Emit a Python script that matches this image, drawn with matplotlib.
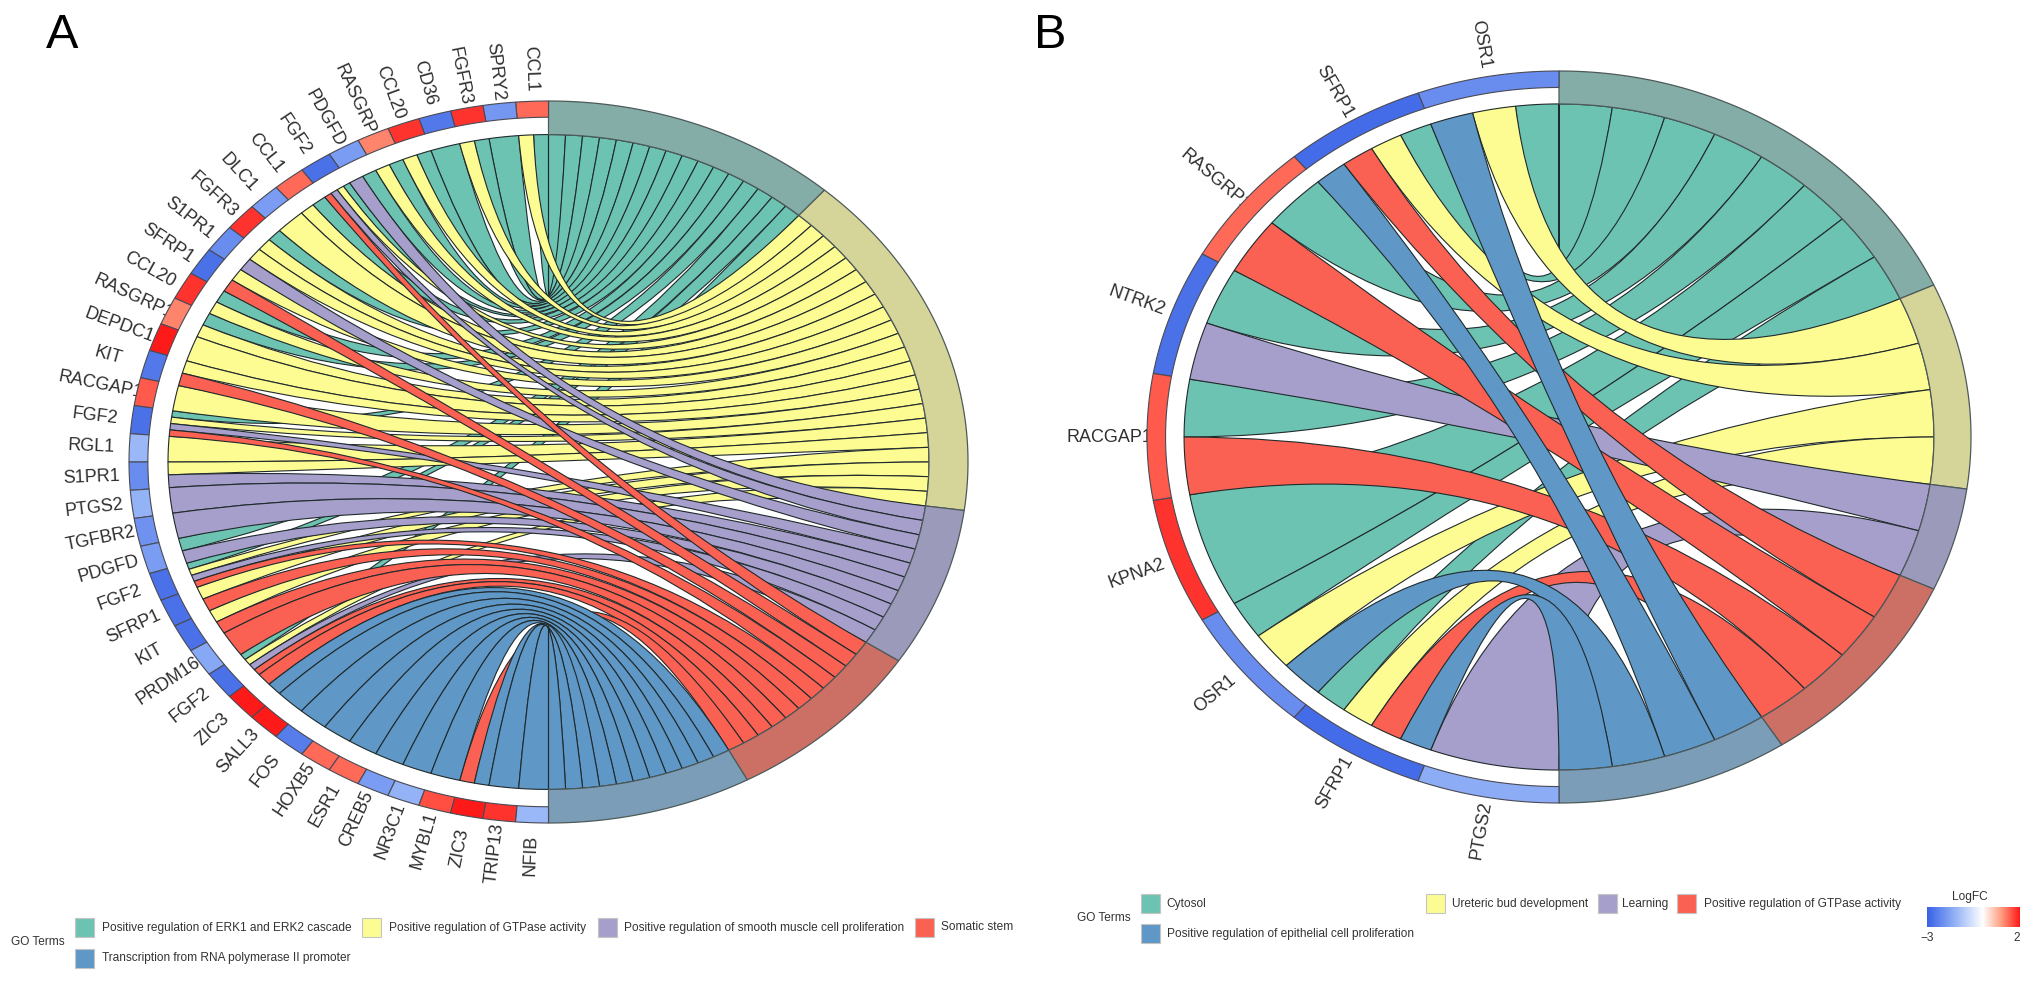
import numpy as np
import matplotlib
matplotlib.use('Agg')
import matplotlib.pyplot as plt
from matplotlib.colors import LinearSegmentedColormap
from matplotlib.patches import PathPatch, Polygon, Rectangle
from matplotlib.path import Path

plt.rcParams['font.family'] = ['Liberation Sans', 'DejaVu Sans']

W, H = 2032, 983

# T=0, Y=1, P=2, R=3, B=4 are positions in the term colour lists
genes_a = ['CCL1', 'SPRY2', 'FGFR3', 'CD36', 'CCL20', 'RASGRP1', 'PDGFD', 'FGF2', 'CCL1', 'DLC1',
           'FGFR3', 'S1PR1', 'SFRP1', 'CCL20', 'RASGRP1', 'DEPDC1', 'KIT', 'RACGAP1', 'FGF2', 'RGL1',
           'S1PR1', 'PTGS2', 'TGFBR2', 'PDGFD', 'FGF2', 'SFRP1', 'KIT', 'PRDM16', 'FGF2', 'ZIC3',
           'SALL3', 'FOS', 'HOXB5', 'ESR1', 'CREB5', 'NR3C1', 'MYBL1', 'ZIC3', 'TRIP13', 'NFIB']
logfc_a = [1.4, -2.0, 1.8, -2.6, 1.8, 1.2, -1.9, -2.7, 1.4, -1.9,
           1.8, -2.2, -2.7, 1.8, 1.2, 2.0, -2.6, 1.5, -2.7, -1.4,
           -2.2, -1.5, -2.1, -1.9, -2.7, -2.7, -2.7, -1.7, -2.7, 2.0,
           2.0, -2.5, 1.4, 1.4, -1.9, -1.5, 1.6, 2.0, 1.8, -1.4]
links_a = [[0, 1], [0], [0, 1], [0], [0, 1], [0, 1], [0, 2], [0, 1, 2, 3], [0, 1], [1],
           [0, 1], [1, 2], [1, 3], [0, 1], [0, 1], [1], [1, 3], [1], [0, 1, 2, 3], [1],
           [1, 2], [2], [2], [0, 2], [0, 1, 2, 3], [1, 3], [1, 3], [3], [0, 1, 2, 3], [3, 4],
           [4], [4], [4], [4], [4], [4], [4], [3, 4], [4], [4]]

genes_b = ['OSR1', 'SFRP1', 'RASGRP1', 'NTRK2', 'RACGAP1', 'KPNA2', 'OSR1', 'SFRP1', 'PTGS2']
logfc_b = [-2.2, -2.8, 1.4, -2.7, 1.5, 1.8, -2.2, -2.8, -1.6]
links_b = [[0, 1, 4], [0, 1, 3, 4], [0, 3], [0, 2], [0, 3], [0], [0, 1, 4], [0, 1, 3, 4], [2]]

ribbon_colors = ['#6DC3B1', '#FDFC92', '#A69FCC', '#FB6152', '#5F97C6']
arc_colors = ['#84ADA7', '#D6D599', '#9C9ABB', '#CC7066', '#7C9DB7']

cmap = LinearSegmentedColormap.from_list('logfc', ['#3A62E6', '#93B3F6', '#FFFFFF', '#FF9E81', '#FF1A1A'])


def fc_color(v):
    # white sits at 0 on a -3..2 scale, as in the colour bar
    return cmap(0.5 + 0.5 * v / 3.0) if v < 0 else cmap(0.5 + 0.5 * v / 2.0)


def pt(ang, r):
    a = np.radians(ang)
    return np.column_stack([r * np.sin(a), r * np.cos(a)])


def arc(a1, a2, r):
    n = max(int(abs(a2 - a1)) + 3, 3)
    return pt(np.linspace(a1, a2, n), r)


def band(ax, a1, a2, r1, r2, fc, ec, lw, z=3):
    xy = np.vstack([arc(a1, a2, r2), arc(a2, a1, r1)])
    ax.add_patch(Polygon(xy, closed=True, fc=fc, ec=ec, lw=lw, zorder=z))


def ribbon(ax, g1, g2, t1, t2, r, fc):
    # quadratic bezier through the centre on both long edges
    top = arc(t1, t2, r)
    back = arc(g2, g1, r)
    verts = [pt(g1, r)[0], (0, 0), top[0]] + list(top[1:]) + [(0, 0), back[0]] + list(back[1:]) + [back[-1]]
    codes = [Path.MOVETO, Path.CURVE3, Path.CURVE3] + [Path.LINETO] * (len(top) - 1) + \
            [Path.CURVE3, Path.CURVE3] + [Path.LINETO] * (len(back) - 1) + [Path.CLOSEPOLY]
    ax.add_patch(PathPatch(Path(verts, codes), fc=fc, ec='#202a2c', lw=0.8, zorder=2))


def chord(cx, cy, rx, ry, genes, logfc, links, ring, gene_in=0.955):
    # axes sized so one data unit is rx by ry pixels
    xm, ym = 1.3, 1.2
    ax = fig.add_axes([(cx - xm * rx) / W, 1 - (cy + ym * ry) / H, 2 * xm * rx / W, 2 * ym * ry / H])
    ax.set_xlim(-xm, xm)
    ax.set_ylim(-ym, ym)
    ax.axis('off')

    gw = 180.0 / len(genes)
    total = sum(len(l) for l in links)
    sw = 180.0 / total
    counts = [sum(t in l for l in links) for t in range(5)]
    starts = np.concatenate([[0], np.cumsum(counts)]) * sw

    used = [0] * 5
    segs = []
    for i, terms in enumerate(links):
        w = gw / len(terms)
        for k, t in enumerate(terms):
            g1 = -(i * gw + k * w)
            t1 = starts[t] + used[t] * sw
            used[t] += 1
            segs.append((t, g1, g1 - w, t1, t1 + sw))
    for t, g1, g2, t1, t2 in sorted(segs, key=lambda s: s[0]):
        ribbon(ax, g1, g2, t1, t2, ring, ribbon_colors[t])

    for t in range(5):
        band(ax, starts[t], starts[t + 1], ring, 1.0, arc_colors[t], '#4d5a5a', 0.9)

    for i, name in enumerate(genes):
        band(ax, -i * gw, -(i + 1) * gw, gene_in, 1.0, fc_color(logfc[i]), '#4a4a55', 0.8)
        mid = (i + 0.5) * gw
        p = pt(-mid, 1.09)[0]
        rot = np.degrees(np.arctan2(-np.cos(np.radians(mid)), np.sin(np.radians(mid))))
        # labels go under the arcs, long names run into the ring as in the original
        ax.text(p[0], p[1], name, rotation=rot, rotation_mode='anchor', ha='center', va='center',
                fontsize=13, color='#2e2e2e', zorder=1)
    return ax


def key(x, y, color, label, tx):
    over.add_patch(Rectangle((x, y), 19, 19, fc=color, ec='#c4c4c4', lw=0.8))
    over.text(tx, y + 9.5, label, fontsize=8.6, color='#333333', va='center', ha='left')


fig = plt.figure(figsize=(W / 100, H / 100), dpi=100)

chord(548.5, 462, 419.5, 361, genes_a, logfc_a, links_a, 0.907)
chord(1559, 437, 412, 366, genes_b, logfc_b, links_b, 0.91)

# legends and panel letters sit on a pixel overlay
over = fig.add_axes([0, 0, 1, 1])
over.set_xlim(0, W)
over.set_ylim(H, 0)
over.axis('off')
over.patch.set_alpha(0)

over.text(46, 48, 'A', fontsize=35, color='black', ha='left', va='baseline')
over.text(1034, 48, 'B', fontsize=35, color='black', ha='left', va='baseline')

over.text(11, 942, 'GO Terms', fontsize=8.6, color='#333333', va='center')
key(75, 918, ribbon_colors[0], 'Positive regulation of ERK1 and ERK2 cascade', 102)
key(362, 918, ribbon_colors[1], 'Positive regulation of GTPase activity', 389)
key(597.5, 918, ribbon_colors[2], 'Positive regulation of smooth muscle cell proliferation', 624)
key(915, 918, ribbon_colors[3], 'Somatic stem', 941)
key(75, 949, ribbon_colors[4], 'Transcription from RNA polymerase II promoter', 102)

over.text(1077, 918, 'GO Terms', fontsize=8.6, color='#333333', va='center')
key(1141, 894, ribbon_colors[0], 'Cytosol', 1166)
key(1141, 924, ribbon_colors[4], 'Positive regulation of epithelial cell proliferation', 1167)
key(1426, 894, ribbon_colors[1], 'Ureteric bud development', 1452)
key(1598, 894, ribbon_colors[2], 'Learning', 1622)
key(1677, 894, ribbon_colors[3], 'Positive regulation of GTPase activity', 1704)

# colour bar
cb = fig.add_axes([1927 / W, 1 - 927 / H, 93 / W, 20 / H])
vals = np.linspace(-3, 2, 200)
cb.imshow([[fc_color(v) for v in vals]], aspect='auto', extent=[-3, 2, 0, 1])
cb.axis('off')
over.text(1970, 897, 'LogFC', fontsize=8.6, color='#333333', ha='center', va='center')
over.text(1927, 938, '\u22123', fontsize=8.6, color='#333333', ha='center', va='center')
over.text(2017, 938, '2', fontsize=8.6, color='#333333', ha='center', va='center')

fig.savefig('out.png', dpi=100)
